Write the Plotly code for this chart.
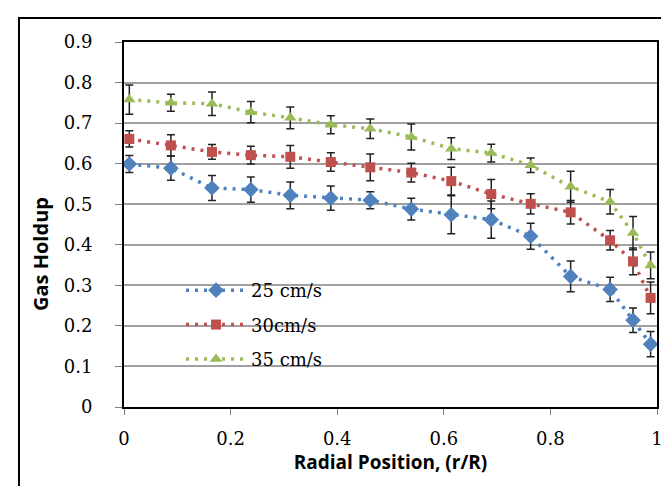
import plotly.graph_objects as go

# radial positions r/R
r_pos = [0.01, 0.088, 0.165, 0.238, 0.312, 0.388, 0.462, 0.539, 0.614, 0.689, 0.763, 0.838, 0.912, 0.955, 0.988]

# gas holdup and error bars for each superficial gas velocity
holdup_25 = [0.599, 0.589, 0.540, 0.536, 0.522, 0.515, 0.510, 0.488, 0.474, 0.462, 0.421, 0.322, 0.290, 0.214, 0.155]
err_25 = [0.021, 0.030, 0.031, 0.031, 0.033, 0.030, 0.021, 0.027, 0.047, 0.046, 0.032, 0.038, 0.030, 0.030, 0.031]

holdup_30 = [0.661, 0.645, 0.629, 0.621, 0.617, 0.604, 0.591, 0.578, 0.557, 0.525, 0.501, 0.480, 0.411, 0.359, 0.269]
err_30 = [0.020, 0.026, 0.018, 0.022, 0.028, 0.023, 0.033, 0.023, 0.034, 0.036, 0.025, 0.029, 0.024, 0.033, 0.039]

holdup_35 = [0.758, 0.750, 0.748, 0.727, 0.713, 0.696, 0.686, 0.666, 0.637, 0.626, 0.596, 0.543, 0.506, 0.429, 0.349]
err_35 = [0.036, 0.021, 0.029, 0.026, 0.027, 0.022, 0.024, 0.032, 0.027, 0.022, 0.018, 0.038, 0.030, 0.041, 0.033]

series_names = ['25 cm/s', '30cm/s', '35 cm/s']
x_ticks = [0, 0.2, 0.4, 0.6, 0.8, 1]
y_ticks = [0, 0.1, 0.2, 0.3, 0.4, 0.5, 0.6, 0.7, 0.8, 0.9]

styles = [
    dict(color='#4F81BD', symbol='diamond', size=12),
    dict(color='#C0504D', symbol='square', size=10),
    dict(color='#9BBB59', symbol='triangle-up', size=11),
]

fig = go.Figure()
for name, y, err, st in zip(series_names, [holdup_25, holdup_30, holdup_35],
                            [err_25, err_30, err_35], styles):
    fig.add_trace(go.Scatter(
        x=r_pos, y=y, name=name, mode='lines+markers', legendgroup=name,
        line=dict(color=st['color'], width=3.5, dash='3px,6px'),
        marker=dict(color=st['color'], symbol=st['symbol'], size=st['size']),
        error_y=dict(type='data', array=err, visible=True,
                     color='#222222', thickness=1.5, width=4),
    ))

tick_font = dict(family='DejaVu Serif', size=18, color='black')
title_font = dict(family='Open Sans', size=19, color='black')

fig.update_xaxes(
    range=[0, 1], tickvals=x_ticks, ticktext=[str(v) for v in x_ticks],
    showgrid=False, zeroline=False,
    showline=True, mirror=True, linecolor='black', linewidth=2,
    ticks='outside', ticklen=6, tickcolor='#808080', tickwidth=1,
    tickfont=tick_font, ticklabelstandoff=8,
    title=dict(text='<b>Radial Position, (r/R)</b>', font=title_font, standoff=0),
)
fig.update_yaxes(
    range=[0, 0.9], tickvals=y_ticks, ticktext=['0'] + ['%.1f' % v for v in y_ticks[1:]],
    showgrid=True, gridcolor='#A0A0A0', gridwidth=1.5, zeroline=False,
    showline=True, mirror=True, linecolor='black', linewidth=2,
    ticks='outside', ticklen=7, tickcolor='#808080', tickwidth=1,
    tickfont=tick_font, ticklabelstandoff=19,
)

# y-axis label sits a bit below the middle of the plot, as in the original
fig.add_annotation(
    x=-0.157, y=0.42, xref='paper', yref='paper',
    text='<b>Gas Holdup</b>', textangle=-90, showarrow=False,
    font=dict(family='Open Sans', size=20, color='black'),
    xanchor='center', yanchor='middle',
)

# outer chart-area border (cut off on right and bottom)
fig.add_shape(type='rect', xref='paper', yref='paper',
              x0=-0.197, x1=1.1, y0=-0.3, y1=1.066,
              line=dict(color='black', width=2), fillcolor='rgba(0,0,0,0)')

fig.update_layout(
    width=669, height=486,
    margin=dict(l=116, r=20, t=34, b=87),
    plot_bgcolor='white', paper_bgcolor='white',
    showlegend=True,
    legend=dict(x=0.107, y=0.37, xanchor='left', yanchor='top',
                bgcolor='rgba(0,0,0,0)', itemwidth=60,
                font=dict(family='DejaVu Serif', size=18, color='black'),
                tracegroupgap=8),
)

fig.write_html("out.html")
